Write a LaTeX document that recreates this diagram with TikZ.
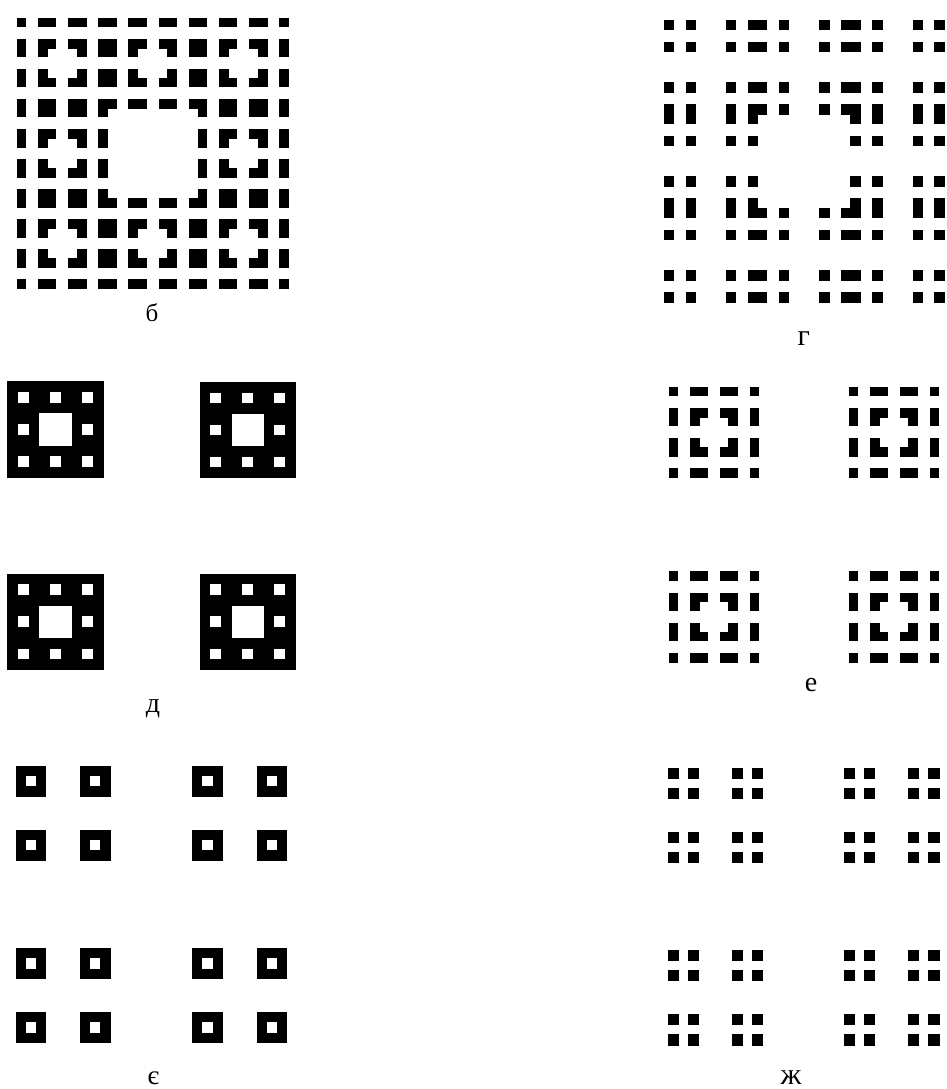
\documentclass[tikz,border=0pt]{standalone}
\usepackage{fontspec}
\setmainfont{Liberation Serif}
\tikzset{
  blk/.style={fill=black, draw=black, line width=0.35pt},
  hole/.style={fill=white},
  lab/.style={anchor=base, inner sep=0pt, text=black}
}
% band cell: x y w h fraction
\newcommand{\rkband}[5]{%
  \pgfmathsetmacro{\rkx}{#1}\pgfmathsetmacro{\rky}{#2}%
  \pgfmathsetmacro{\rkw}{#3*#5}\pgfmathsetmacro{\rkh}{#4*#5}%
  \pgfmathsetmacro{\rkxx}{\rkx+#3-\rkw}\pgfmathsetmacro{\rkyy}{\rky+#4-\rkh}%
  \fill[blk] (\rkx,\rky) rectangle ++(\rkw,\rkh);
  \fill[blk] (\rkxx,\rky) rectangle ++(\rkw,\rkh);
  \fill[blk] (\rkx,\rkyy) rectangle ++(\rkw,\rkh);
  \fill[blk] (\rkxx,\rkyy) rectangle ++(\rkw,\rkh);
}
% solid level-1 carpet: x y size
\newcommand{\rkcarpetone}[3]{%
  \pgfmathsetmacro{\rkx}{#1}\pgfmathsetmacro{\rky}{#2}\pgfmathsetmacro{\rks}{#3/3}%
  \fill[black] (\rkx,\rky) rectangle ++(#3,#3);
  \fill[hole] (\rkx+\rks,\rky+\rks) rectangle ++(\rks,\rks);
}
% solid level-2 carpet: x y size
\newcommand{\rkcarpettwo}[3]{%
  \pgfmathsetmacro{\rkX}{#1}\pgfmathsetmacro{\rkY}{#2}\pgfmathsetmacro{\rkS}{#3/9}%
  \fill[black] (\rkX,\rkY) rectangle ++(#3,#3);
  \fill[hole] (\rkX+3*\rkS,\rkY+3*\rkS) rectangle ++(3*\rkS,3*\rkS);
  \foreach \i in {0,1,2}{\foreach \j in {0,1,2}{
    \fill[hole] (\rkX+3*\i*\rkS+\rkS,\rkY+3*\j*\rkS+\rkS) rectangle ++(\rkS,\rkS);
  }}
}
\begin{document}
\begin{tikzpicture}[x=1pt,y=-1pt]
\useasboundingbox (0,0) rectangle (946,1089);
\fill[white] (0,0) rectangle (946,1089);

% ---- panel b (level-2 carpet, band style)
\foreach \r in {0,...,8}{\foreach \c in {0,...,8}{
  \pgfmathtruncatemacro{\keep}{((mod(\r,3)==1 && mod(\c,3)==1) || (int(\r/3)==1 && int(\c/3)==1)) ? 0 : 1}
  \ifnum\keep=1 \rkband{16.7+\c*30.17}{17.7+\r*30.07}{30.17}{30.07}{0.29}\fi
}}
\node[lab, font=\fontsize{25}{25}\selectfont] (lb) at (152,321) {б};

% ---- panel g
\foreach \r in {0,2,3,5,6,8}{\foreach \c in {0,2,3,5,6,8}{
  \pgfmathtruncatemacro{\keep}{((\r==3 || \r==5) && (\c==3 || \c==5)) ? 0 : 1}
  \ifnum\keep=1 \rkband{664+\c*31.1}{20+\r*31.3}{31.1}{31.3}{0.30}\fi
}}
\node[lab, font=\fontsize{30}{30}\selectfont] (lg) at (803.7,345) {г};

% ---- panel d
\rkcarpettwo{7.3}{381.3}{96.4}
\rkcarpettwo{199.5}{381.8}{96.4}
\rkcarpettwo{7.3}{573.6}{96.4}
\rkcarpettwo{199.5}{573.6}{96.4}
\node[lab, font=\fontsize{28}{28}\selectfont] (ld) at (153,712) {д};

% ---- panel e
\foreach \ox/\oy in {669/386.7, 849/386.7, 669/571.4, 849/571.4}{
  \foreach \r in {0,1,2}{\foreach \c in {0,1,2}{
    \pgfmathtruncatemacro{\keep}{(\r==1 && \c==1) ? 0 : 1}
    \ifnum\keep=1 \rkband{\ox+\c*29.8}{\oy+\r*30.2}{29.8}{30.2}{0.29}\fi
  }}
}
\node[lab, font=\fontsize{28}{28}\selectfont] (le) at (811,691) {е};

% ---- panel ye
\foreach \ox in {15.7,80,192.3,256.7}{\foreach \oy in {766,830,948.3,1012.3}{
  \rkcarpetone{\ox}{\oy}{30.5}
}}
\node[lab, font=\fontsize{27}{27}\selectfont] (lye) at (153.3,1084.5) {є};

% ---- panel zh
\foreach \ox in {667.7,731.7,844,908.3}{\foreach \oy in {767.7,831.7,950,1014.3}{
  \rkband{\ox}{\oy}{30.6}{30.6}{0.335}
}}
\node[lab, font=\fontsize{30}{30}\selectfont] (lzh) at (791,1084) {ж};
\end{tikzpicture}
\end{document}
